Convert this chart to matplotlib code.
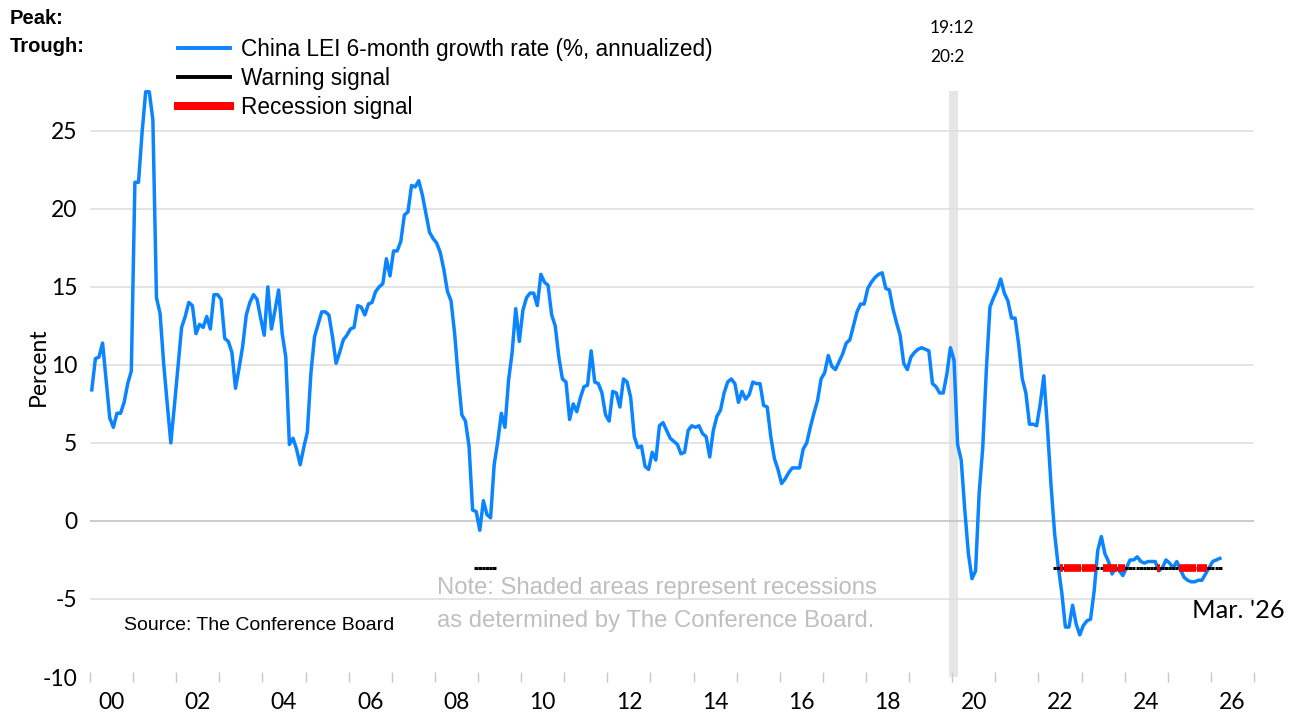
import numpy as np
import matplotlib
matplotlib.use("Agg")
import matplotlib.pyplot as plt
from matplotlib.lines import Line2D

# monthly values, Jan 2000 .. Mar 2026
start_year = 2000
lei_growth = [
    8.4, 10.4, 10.5, 11.4, 9.0, 6.6, 6.0, 6.9, 6.9, 7.6, 8.8, 9.6,            # 2000
    21.7, 21.7, 24.9, 27.5, 27.5, 25.7, 14.3, 13.3, 10.1, 7.5, 5.0, 7.4,      # 2001
    9.9, 12.4, 13.1, 14.0, 13.8, 12.0, 12.6, 12.4, 13.1, 12.3, 14.5, 14.5,    # 2002
    14.2, 11.7, 11.5, 10.8, 8.5, 9.8, 11.2, 13.2, 14.0, 14.5, 14.2, 13.0,     # 2003
    11.9, 15.0, 12.3, 13.5, 14.8, 12.0, 10.5, 4.9, 5.3, 4.6, 3.6, 4.7,       # 2004
    5.7, 9.5, 11.8, 12.6, 13.4, 13.4, 13.2, 11.8, 10.1, 10.8, 11.6, 11.9,     # 2005
    12.3, 12.4, 13.8, 13.7, 13.2, 13.9, 14.0, 14.7, 15.0, 15.2, 16.8, 15.7,   # 2006
    17.3, 17.3, 17.9, 19.6, 19.8, 21.5, 21.4, 21.8, 20.9, 19.7, 18.5, 18.1,   # 2007
    17.8, 17.2, 16.1, 14.7, 14.1, 12.0, 9.2, 6.8, 6.4, 4.8, 0.7, 0.6,         # 2008
    -0.6, 1.3, 0.4, 0.2, 3.6, 5.1, 6.9, 6.0, 9.0, 10.8, 13.6, 11.5,           # 2009
    13.5, 14.3, 14.6, 14.6, 13.8, 15.8, 15.3, 15.1, 13.2, 12.5, 10.5, 9.1,    # 2010
    8.9, 6.5, 7.5, 7.0, 7.9, 8.6, 8.7, 10.9, 8.9, 8.8, 8.2, 6.8,              # 2011
    6.4, 8.3, 8.2, 7.3, 9.1, 8.9, 7.9, 5.4, 4.7, 4.8, 3.5, 3.3,               # 2012
    4.4, 3.9, 6.1, 6.3, 5.8, 5.3, 5.1, 4.9, 4.3, 4.4, 5.8, 6.1,               # 2013
    6.0, 6.1, 5.6, 5.4, 4.1, 5.8, 6.7, 7.1, 8.2, 8.9, 9.1, 8.8,               # 2014
    7.6, 8.3, 7.8, 8.1, 8.9, 8.8, 8.8, 7.4, 7.3, 5.4, 4.0, 3.3,               # 2015
    2.4, 2.7, 3.1, 3.4, 3.4, 3.4, 4.6, 5.0, 6.0, 6.9, 7.7, 9.1,               # 2016
    9.5, 10.6, 9.9, 9.7, 10.2, 10.7, 11.4, 11.6, 12.5, 13.4, 13.9, 13.9,      # 2017
    14.9, 15.3, 15.6, 15.8, 15.9, 14.9, 14.8, 13.6, 12.7, 11.9, 10.1, 9.7,    # 2018
    10.5, 10.8, 11.0, 11.1, 11.0, 10.9, 8.8, 8.6, 8.2, 8.2, 9.4, 11.1,        # 2019
    10.3, 4.9, 3.9, 0.7, -2.1, -3.7, -3.2, 1.8, 4.7, 9.7, 13.7, 14.3,         # 2020
    14.8, 15.5, 14.6, 14.1, 13.0, 13.0, 11.3, 9.1, 8.2, 6.2, 6.2, 6.1,        # 2021
    7.5, 9.3, 6.0, 2.3, -0.8, -2.9, -4.6, -6.8, -6.8, -5.4, -6.6, -7.3,       # 2022
    -6.7, -6.4, -6.3, -4.5, -1.9, -1.0, -2.1, -2.6, -3.4, -3.0, -3.2, -3.5,   # 2023
    -3.0, -2.5, -2.5, -2.3, -2.6, -2.7, -2.6, -2.6, -2.6, -3.2, -3.0, -2.5,   # 2024
    -2.7, -3.0, -2.6, -3.1, -3.6, -3.8, -3.9, -3.9, -3.8, -3.8, -3.4, -3.0,   # 2025
    -2.6, -2.5, -2.4,                                                         # 2026
]

warning_periods = [("2008-12", "2009-05"), ("2022-05", "2026-03")]
recession_periods = [("2022-07", "2023-04"), ("2023-07", "2023-12"),
                     ("2024-10", "2024-10"), ("2025-04", "2025-11")]
signal_level = -3

shade_peak = "2019-12"
shade_trough = "2020-02"

y_ticks = [-10, -5, 0, 5, 10, 15, 20, 25]
x_labels = ["00", "02", "04", "06", "08", "10", "12", "14", "16", "18", "20", "22", "24", "26"]

BLUE = "#0A84FF"
TICK_FONT = ["Lato", "DejaVu Sans"]
W, H = 1292, 713


def month_idx(s: str) -> int:
    y, m = s.split("-")
    return (int(y) - start_year) * 12 + int(m) - 1


def month_mid(idx):
    return start_year + (np.asarray(idx) + 0.5) / 12


def period_months(periods):
    out = []
    for a, b in periods:
        out.extend(range(month_idx(a), month_idx(b) + 1))
    return np.array(out)


def fx(px):
    return px / W


def fy(py):
    return 1 - py / H


plt.rcParams["font.family"] = ["Liberation Sans", "DejaVu Sans"]

fig = plt.figure(figsize=(W / 100, H / 100), dpi=100)
ax = fig.add_axes([fx(90), fy(677), fx(1254) - fx(90), fy(91) - fy(677)])

x = month_mid(np.arange(len(lei_growth)))

# recession shading
ax.axvspan(start_year + month_idx(shade_peak) / 12, month_mid(month_idx(shade_trough)),
           color="#E6E6E6", lw=0, zorder=0)

# grid
for v in y_ticks[1:]:
    ax.axhline(v, color="#BFBFBF" if v == 0 else "#DDDDDD", lw=1.1, zorder=1)

ax.plot(x, lei_growth, color=BLUE, lw=2.5, zorder=3, clip_on=False)

# signals, one short block per month
wm = month_mid(period_months(warning_periods))
ax.hlines([signal_level] * len(wm), wm - 0.040, wm + 0.040, color="black", lw=2.2, zorder=4)
rm = month_mid(period_months(recession_periods))
ax.hlines([signal_level] * len(rm), rm - 0.0395, rm + 0.0395, color="#FF0000", lw=5.5, zorder=5)

ax.set_xlim(2000, 2027)
ax.set_ylim(-10, 27.55)
for s in ax.spines.values():
    s.set_visible(False)

ax.set_yticks(y_ticks)
ax.set_yticklabels([str(v) for v in y_ticks], family=TICK_FONT, fontsize=16.5)
ax.tick_params(axis="y", length=0, pad=9)

ax.set_xticks(np.arange(2000, 2028))
ax.set_xticklabels([])
ax.set_xticks([2000 + 2 * i + 0.5 for i in range(len(x_labels))], minor=True)
ax.set_xticklabels(x_labels, minor=True, family=TICK_FONT, fontsize=16.5)
ax.tick_params(axis="x", which="major", direction="inout", length=7, width=1, color="#C8C8C8")
ax.tick_params(axis="x", which="minor", length=0, pad=11)

fig.text(fx(38), fy(367), "Percent", family=TICK_FONT, fontsize=16.5, rotation=90,
         ha="center", va="center")

# legend
handles = [Line2D([], [], color=BLUE, lw=2.8),
           Line2D([], [], color="black", lw=2.8),
           Line2D([], [], color="#FF0000", lw=5.8)]
labels = ["China LEI 6-month growth rate (%, annualized)", "Warning signal", "Recession signal"]
fig.legend(handles, labels, loc="upper left", bbox_to_anchor=(fx(178), fy(38)),
           frameon=False, fontsize=16.3, borderpad=0, borderaxespad=0,
           handlelength=2.3, handletextpad=0.5, labelspacing=0.27)

fig.text(fx(10), fy(18), "Peak:", fontsize=14.5, fontweight="bold", va="center")
fig.text(fx(10), fy(46), "Trough:", fontsize=14.5, fontweight="bold", va="center")
fig.text(fx(930), fy(28), "19:12", family=TICK_FONT, fontsize=12.5, va="center")
fig.text(fx(930), fy(57), "20:2", family=TICK_FONT, fontsize=12.5, va="center")

fig.text(fx(124), fy(625), "Source: The Conference Board", fontsize=14, va="center")
fig.text(fx(437), fy(588), "Note: Shaded areas represent recessions", fontsize=17.2,
         color="#BFBFBF", va="center")
fig.text(fx(437), fy(621), "as determined by The Conference Board.", fontsize=17.2,
         color="#BFBFBF", va="center")
fig.text(fx(1192), fy(610), "Mar. '26", family=TICK_FONT, fontsize=18.3, va="center")

fig.savefig("out.png", dpi=100)
